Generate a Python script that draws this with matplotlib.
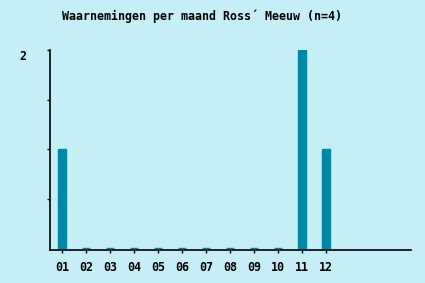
import matplotlib
matplotlib.use("Agg")
import matplotlib.pyplot as plt
from matplotlib.transforms import blended_transform_factory

months = ["01", "02", "03", "04", "05", "06", "07", "08", "09", "10", "11", "12"]
counts = [1, 0, 0, 0, 0, 0, 0, 0, 0, 0, 2, 1]
title = "Waarnemingen per maand Ross´ Meeuw (n=4)"

bg = "#c6eef6"
bar_color = "#0086a6"
font = "DejaVu Sans Mono"
fs = 8.4

fig = plt.figure(figsize=(4.25, 2.83), dpi=100, facecolor=bg)
ax = fig.add_axes([50/425, 33/283, 361/425, 200/283], facecolor=bg)

x = list(range(1, len(months) + 1))
ax.bar(x, counts, width=0.34, color=bar_color, edgecolor=bar_color,
       linewidth=1.0, zorder=1)

ax.set_xlim(0.5, 15.54)
ax.set_ylim(-0.016, 2)
ax.set_xticks(x)
ax.set_xticklabels(months, fontfamily=font, fontweight="bold", fontsize=fs)
ax.set_yticks([0.5, 1, 1.5, 2])
ax.set_yticklabels([])
ax.tick_params(axis="x", length=2.5, width=1, pad=5.5, colors="black")
ax.tick_params(axis="y", length=2.5, width=1)
for s in ["top", "right"]:
    ax.spines[s].set_visible(False)
for s in ["left", "bottom"]:
    ax.spines[s].set_linewidth(1.2)

tr = blended_transform_factory(fig.transFigure, ax.transData)
ax.text(26.5/425, 2, "2", transform=tr, ha="right", va="top",
        fontfamily=font, fontweight="bold", fontsize=fs)

fig.text(201.5/425, 1 - 16/283, title, ha="center", va="center",
         fontfamily=font, fontweight="bold", fontsize=fs)

fig.savefig("out.png", dpi=100, facecolor=bg)
